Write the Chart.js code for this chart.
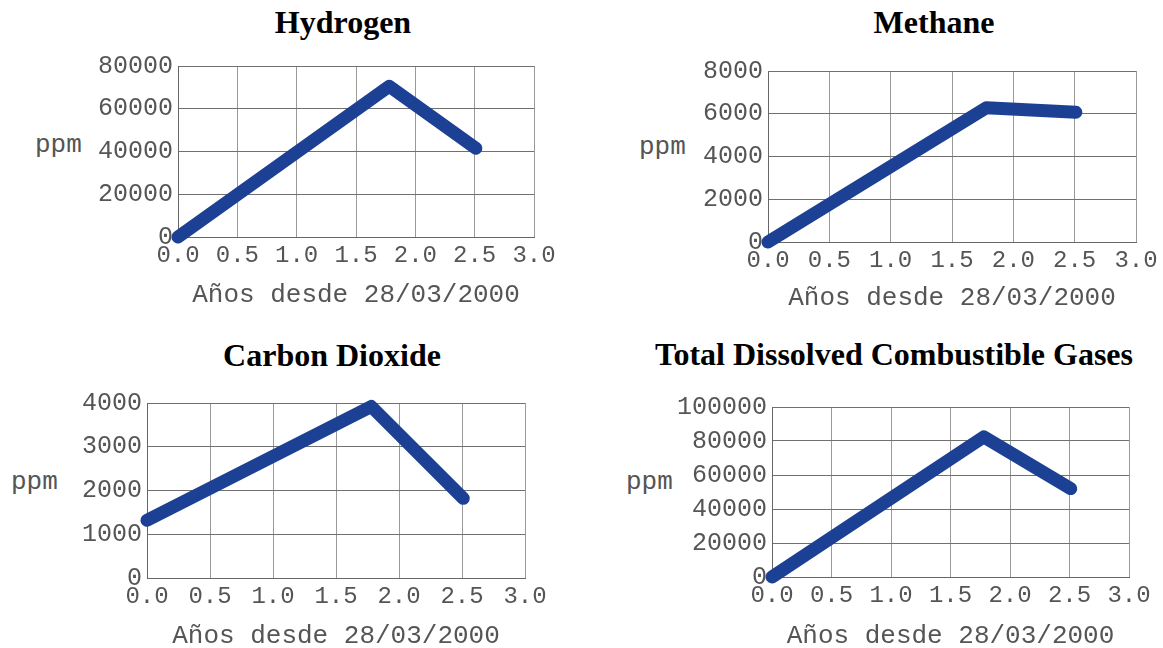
<!DOCTYPE html>
<html>
<head>
<meta charset="utf-8">
<script src="https://cdn.jsdelivr.net/npm/chart.js@4.4.1/dist/chart.umd.min.js"></script>
<style>
  body { margin: 0; background: #fff; width: 1163px; height: 648px; position: relative; overflow: hidden; }
  canvas, .title, .ppm { position: absolute; }
  .title { font: bold 32px "Liberation Serif", "Times New Roman", serif; color: #000; line-height: 32px; white-space: nowrap; width: 600px; text-align: center; }
  .ppm { font: 26px "Liberation Mono", "Courier New", monospace; color: #555; line-height: 26px; }
</style>
</head>
<body>
<script>
// data
const years = [0, 1.78, 2.51];
const hydrogen = [0, 70500, 41500];
const methane = [0, 6280, 6070];
const carbonDioxide = [1320, 3920, 1820];
const totalCombustible = [0, 82400, 52000];

const chartTitles = ["Hydrogen", "Methane", "Carbon Dioxide", "Total Dissolved Combustible Gases"];
const yMaxes = [80000, 8000, 4000, 100000];
const ySteps = [20000, 2000, 1000, 20000];
const xTicks = [0, 0.5, 1.0, 1.5, 2.0, 2.5, 3.0];
const xLabel = "Años desde 28/03/2000";
const yLabel = "ppm";

const series = [hydrogen, methane, carbonDioxide, totalCombustible];

// where each panel sits on the page
const panels = [
  { box: [178, 66, 534, 237], xh: 74, tx: 343, tb: 33, px: 35, pb: 152 },
  { box: [768, 71, 1136, 242], xh: 72, tx: 934, tb: 33, px: 639, pb: 154 },
  { box: [147, 403, 525, 578], xh: 74, tx: 332, tb: 366, px: 11, pb: 489 },
  { box: [772, 407, 1129, 577], xh: 75, tx: 894, tb: 365, px: 626, pb: 489 }
];

const YW = 100, PAD_TOP = 20, PAD_RIGHT = 30;
const mono = "'Liberation Mono', 'Courier New', monospace";

panels.forEach((p, i) => {
  const [L, T, R, B] = p.box;

  const t = document.createElement("div");
  t.className = "title";
  t.textContent = chartTitles[i];
  t.style.left = (p.tx - 300) + "px";
  t.style.top = (p.tb - 27) + "px";
  document.body.appendChild(t);

  const u = document.createElement("div");
  u.className = "ppm";
  u.textContent = yLabel;
  u.style.left = p.px + "px";
  u.style.top = (p.pb - 20) + "px";
  document.body.appendChild(u);

  const cv = document.createElement("canvas");
  const w = (R - L) + YW + PAD_RIGHT;
  const h = (B - T) + PAD_TOP + p.xh;
  cv.width = w;
  cv.height = h;
  cv.style.left = (L - YW) + "px";
  cv.style.top = (T - PAD_TOP) + "px";
  cv.style.width = w + "px";
  cv.style.height = h + "px";
  document.body.appendChild(cv);

  new Chart(cv, {
    type: "line",
    data: {
      datasets: [{
        data: years.map((x, k) => ({ x: x, y: series[i][k] })),
        borderColor: "#1c4093",
        borderWidth: 13,
        borderCapStyle: "round",
        borderJoinStyle: "round",
        pointRadius: 0,
        tension: 0,
        clip: false
      }]
    },
    options: {
      responsive: false,
      animation: false,
      layout: { padding: { top: PAD_TOP, right: PAD_RIGHT, left: 0, bottom: 0 } },
      plugins: { legend: { display: false }, tooltip: { enabled: false } },
      scales: {
        x: {
          type: "linear",
          min: 0,
          max: 3,
          afterBuildTicks: s => { s.ticks = xTicks.map(v => ({ value: v })); },
          afterFit: s => { s.height = p.xh; },
          grid: { color: "#9a9a9a", lineWidth: 1, drawTicks: false },
          border: { color: "#666", width: 1 },
          ticks: {
            autoSkip: false,
            maxRotation: 0,
            padding: 4,
            color: "#555",
            font: { family: mono, size: 24 },
            callback: v => Number(v).toFixed(1)
          },
          title: {
            display: true,
            text: xLabel,
            color: "#555",
            padding: 0,
            font: { family: mono, size: 26 }
          }
        },
        y: {
          min: 0,
          max: yMaxes[i],
          afterFit: s => { s.width = YW; },
          grid: { color: "#707070", lineWidth: 1, drawTicks: false },
          border: { color: "#666", width: 1 },
          ticks: {
            stepSize: ySteps[i],
            padding: 5,
            color: "#555",
            font: { family: mono, size: 25 },
            callback: v => String(v)
          }
        }
      }
    }
  });
});
</script>
</body>
</html>
